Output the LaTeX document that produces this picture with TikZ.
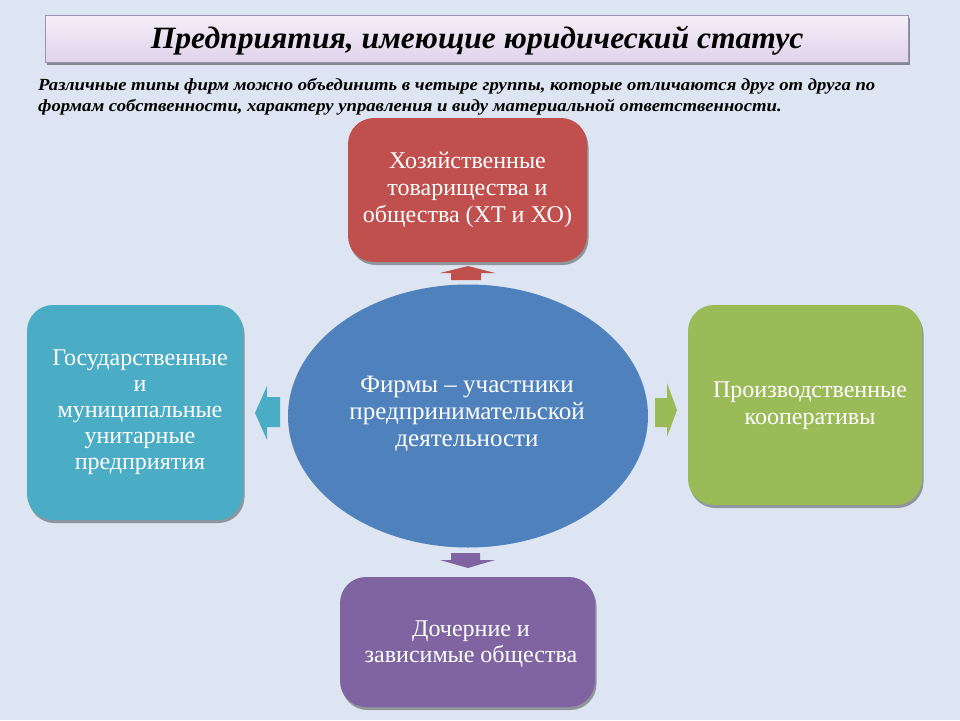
\documentclass[tikz,border=0pt]{standalone}
\usepackage{fontspec}
\setmainfont{Liberation Serif}
\usetikzlibrary{shapes.geometric,shadows}
\definecolor{bg}{HTML}{DCE5F1}
\definecolor{cred}{HTML}{C0504D}
\definecolor{ccyan}{HTML}{4BACC6}
\definecolor{cgreen}{HTML}{9BBB59}
\definecolor{cpurple}{HTML}{8064A2}
\definecolor{cblue}{HTML}{4F81BD}
\definecolor{titletop}{HTML}{F4EEF8}
\definecolor{titlebot}{HTML}{E0D2EB}
\definecolor{titleborder}{HTML}{9C93AE}
\tikzset{
  blockbox/.style={rounded corners=26pt, inner sep=0pt,
    drop shadow={shadow xshift=1.5pt, shadow yshift=-3pt, opacity=0.35, fill=black}},
  boxtext/.style={text=white, align=center, inner sep=0pt, font=\fontsize{24}{27}\selectfont},
  subline/.style={anchor=west, inner sep=0pt, font=\fontsize{17}{20}\selectfont\bfseries\itshape}
}
\begin{document}
\begin{tikzpicture}[x=1pt,y=-1pt]
\fill[bg] (0,0) rectangle (960,720);
\useasboundingbox (0,0) rectangle (960,720);
% title
\node[draw=titleborder, line width=1.2pt, top color=titletop, bottom color=titlebot,
      minimum width=863pt, minimum height=47pt, anchor=north west, inner sep=0pt,
      drop shadow={shadow xshift=1.5pt, shadow yshift=-2.5pt, opacity=0.4, fill=black}]
      (titlebox) at (45,15) {};
\node[font=\fontsize{31}{34}\selectfont\bfseries\itshape] (title) at ([yshift=-2pt]titlebox.center)
  {\scalebox{1.02}[1]{Предприятия, имеющие юридический статус}};
% subtitle
\node[subline] (sub1) at (38,86)
  {\scalebox{1.1}[1]{Различные типы фирм можно объединить в четыре группы, которые отличаются друг от друга по}};
\node[subline] (sub2) at (38,107)
  {\scalebox{1.1}[1]{формам собственности, характеру управления и виду материальной ответственности.}};
% boxes
\node[blockbox, fill=cred, minimum width=239pt, minimum height=144pt] (top) at (467.5,190) {};
\node[boxtext] (toptext) at (467.5,190) {Хозяйственные\\товарищества и\\общества (ХТ и ХО)};
\node[blockbox, fill=ccyan, minimum width=216pt, minimum height=215pt] (left) at (135,412.5) {};
\node[boxtext, font=\fontsize{24}{26}\selectfont] (lefttext) at (140,412.5)
  {Государственные\\и\\муниципальные\\унитарные\\предприятия};
\node[blockbox, fill=cgreen, minimum width=234pt, minimum height=200pt] (right) at (805,405) {};
\node[boxtext] (righttext) at (810,405.5) {Производственные\\кооперативы};
\node[blockbox, fill=cpurple, minimum width=255pt, minimum height=130pt] (bottom) at (467.5,642) {};
\node[boxtext, font=\fontsize{24}{26}\selectfont] (bottomtext) at (471,644) {Дочерние и\\зависимые общества};
% ellipse
\node[ellipse, fill=cblue, minimum width=360pt, minimum height=263pt, inner sep=0pt] (center) at (468,416) {};
\node[boxtext, font=\fontsize{25}{27}\selectfont] (centertext) at (467,414)
  {Фирмы – участники\\предпринимательской\\деятельности};
% block arrows
\fill[cred] (451,280) -- (451,273) -- (440,273) -- (468,266) -- (495,273) -- (481,273) -- (481,280) -- cycle;
\fill[ccyan] (280,397) -- (267,397) -- (267,386) -- (255,413) -- (267,440) -- (267,427) -- (280,427) -- cycle;
\fill[cgreen] (655,398) -- (667,398) -- (667,383) -- (677,410) -- (667,437) -- (667,427) -- (655,427) -- cycle;
\fill[cpurple] (451,553) -- (480,553) -- (480,560) -- (495,560) -- (468,568) -- (440,560) -- (451,560) -- cycle;
\end{tikzpicture}
\end{document}
